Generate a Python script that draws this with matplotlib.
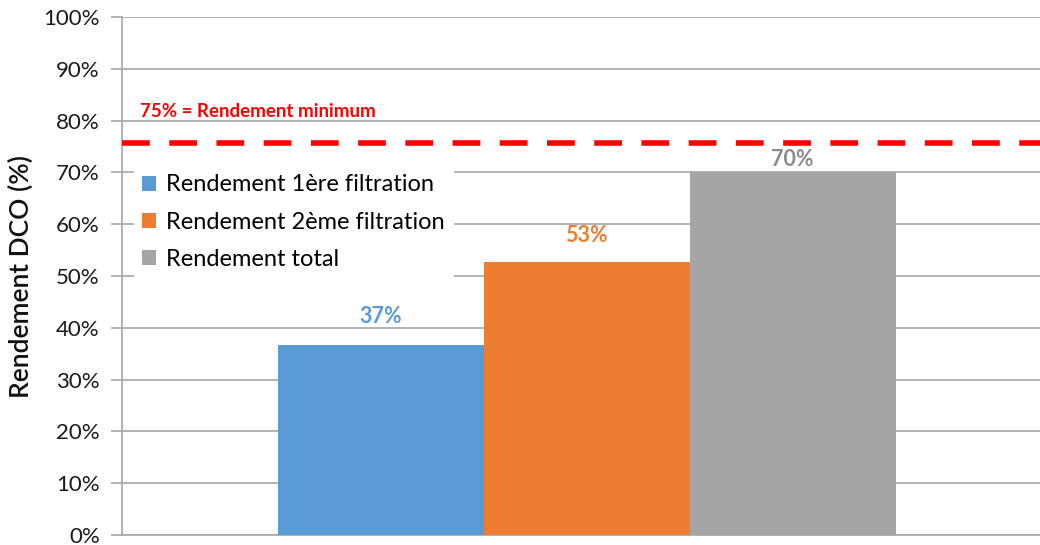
import matplotlib
matplotlib.use("Agg")
import matplotlib.pyplot as plt
from matplotlib.ticker import PercentFormatter

plt.rcParams['font.family'] = ['Lato', 'DejaVu Sans']

series = ["Rendement 1ère filtration", "Rendement 2ème filtration", "Rendement total"]
values = [36.7, 52.7, 70.1]
labels = ["37%", "53%", "70%"]
colors = ["#5B9BD5", "#ED7D31", "#A5A5A5"]
label_colors = ["#5B9BD5", "#ED7D31", "#8C8C8C"]
threshold = 75.6
threshold_label = "75% = Rendement minimum"
yticks = list(range(0, 101, 10))

# layout: vertical gap (in % units) between bar top and its label
label_pads = [3.4, 3.1, 0.4]

fig = plt.figure(figsize=(10.4, 5.45), dpi=100)
ax = fig.add_axes([122/1040, 10/545, 918/1040, 518/545])

w = 1.0
offsets = [-w, 0, w]
for off, v, c, s in zip(offsets, values, colors, series):
    ax.bar(off, v, width=w, color=c, label=s, zorder=3)

for off, v, lab, lc, p in zip(offsets, values, labels, label_colors, label_pads):
    ax.text(off, v + p, lab, ha='center', va='bottom', color=lc,
            fontsize=15.5, fontweight='bold', zorder=5)

ax.axhline(threshold, color='#FF0000', lw=4, dashes=(5, 3.5), zorder=4)
ax.text(0.02, 0.818, threshold_label, transform=ax.transAxes, color='#FF0000',
        fontsize=13.5, fontweight='bold', ha='left', va='center')

ax.set_xlim(-2.255, 2.201)
ax.set_ylim(0, 100)
ax.set_yticks(yticks)
ax.yaxis.set_major_formatter(PercentFormatter(decimals=0))
ax.set_xticks([])
ax.grid(axis='y', color='#A6A6A6', lw=1.2, zorder=0)
for sp in ['top', 'right']:
    ax.spines[sp].set_visible(False)
ax.spines['left'].set_color('#A6A6A6')
ax.spines['bottom'].set_color('#A6A6A6')
ax.spines['left'].set_linewidth(1.2)
ax.spines['bottom'].set_linewidth(1.2)
ax.tick_params(axis='y', length=8, color='#A6A6A6', width=1.2, labelsize=16,
               labelcolor='#1a1a1a', pad=8)
ax.set_ylabel("Rendement DCO (%)", fontsize=19, color='#111111', fontweight='semibold')
ax.yaxis.set_label_coords(-88/918, 0.5)

leg = ax.legend(loc='upper left', bbox_to_anchor=(0.013, 0.712), frameon=True,
                fontsize=17, handlelength=0.6, handleheight=0.6, handletextpad=0.4,
                labelspacing=0.68, borderpad=0.35, borderaxespad=0)
leg.get_frame().set_facecolor('white')
leg.get_frame().set_edgecolor('white')
leg.get_frame().set_alpha(1)
leg.set_zorder(6)

fig.savefig("out.png", dpi=100)
